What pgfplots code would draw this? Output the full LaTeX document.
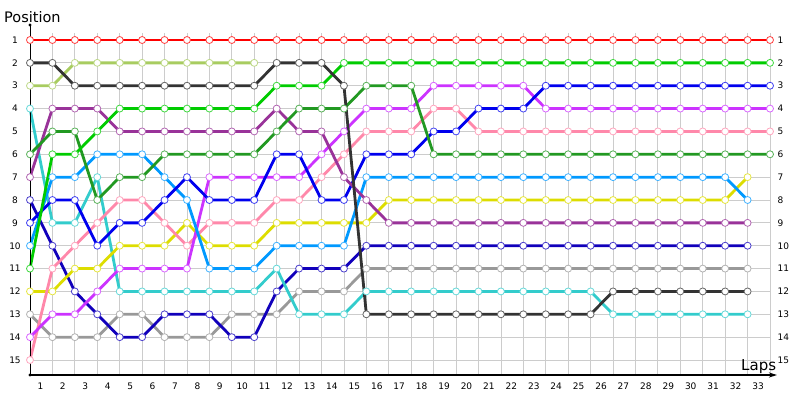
\documentclass[border=0pt]{standalone}
\usepackage{fontspec}
\setmainfont{DejaVu Sans}
\usepackage{pgfplots}
\usepackage{pgfplotstable}
\pgfplotsset{compat=1.18}
\usetikzlibrary{arrows.meta}

\definecolor{cred}{HTML}{FF0000}
\definecolor{cgreen}{HTML}{00CC00}
\definecolor{clgr}{HTML}{A8CC60}
\definecolor{cblk}{HTML}{333333}
\definecolor{cpur}{HTML}{993399}
\definecolor{cdgr}{HTML}{229922}
\definecolor{cvio}{HTML}{CC33FF}
\definecolor{cpnk}{HTML}{FF88AA}
\definecolor{cyel}{HTML}{DDDD00}
\definecolor{clbl}{HTML}{0099FF}
\definecolor{cblu}{HTML}{0000EE}
\definecolor{cnav}{HTML}{1100BB}
\definecolor{cgry}{HTML}{999999}
\definecolor{ccyn}{HTML}{33CCCC}

% position of each driver after each lap (nan = not running)
\pgfplotstableread{
lap red green lgr blk pur dgr vio pnk yel lbl blu nav gry cyn
0  1 11 3   2   7   6 14 15 12  10  9 8   13  4
1  1 6  3   2   4   5 13 11 12  7   8 10  14  9
2  1 6  2   3   4   5 13 10 11  7   8 12  14  9
3  1 5  2   3   4   8 12 9  11  6   10 13 14  7
4  1 4  2   3   5   7 11 8  10  6   9 14  13  12
5  1 4  2   3   5   7 11 8  10  6   9 14  13  12
6  1 4  2   3   5   6 11 9  10  7   8 13  14  12
7  1 4  2   3   5   6 11 10 9   8   7 13  14  12
8  1 4  2   3   5   6 7  9  10  11  8 13  14  12
9  1 4  2   3   5   6 7  9  10  11  8 14  13  12
10 1 4  2   3   5   6 7  9  10  11  8 14  13  12
11 1 3  nan 2   4   5 7  8  9   10  6 12  13  11
12 1 3  nan 2   5   4 7  8  9   10  6 11  12  13
13 1 3  nan 2   5   4 6  7  9   10  8 11  12  13
14 1 2  nan 3   7   4 5  6  9   10  8 11  12  13
15 1 2  nan 13  8   3 4  5  9   7   6 10  11  12
16 1 2  nan 13  9   3 4  5  8   7   6 10  11  12
17 1 2  nan 13  9   3 4  5  8   7   6 10  11  12
18 1 2  nan 13  9   6 3  4  8   7   5 10  11  12
19 1 2  nan 13  9   6 3  4  8   7   5 10  11  12
20 1 2  nan 13  9   6 3  5  8   7   4 10  11  12
21 1 2  nan 13  9   6 3  5  8   7   4 10  11  12
22 1 2  nan 13  9   6 3  5  8   7   4 10  11  12
23 1 2  nan 13  9   6 4  5  8   7   3 10  11  12
24 1 2  nan 13  9   6 4  5  8   7   3 10  11  12
25 1 2  nan 13  9   6 4  5  8   7   3 10  11  12
26 1 2  nan 12  9   6 4  5  8   7   3 10  11  13
27 1 2  nan 12  9   6 4  5  8   7   3 10  11  13
28 1 2  nan 12  9   6 4  5  8   7   3 10  11  13
29 1 2  nan 12  9   6 4  5  8   7   3 10  11  13
30 1 2  nan 12  9   6 4  5  8   7   3 10  11  13
31 1 2  nan 12  9   6 4  5  8   7   3 10  11  13
32 1 2  nan 12  9   6 4  5  7   8   3 10  11  13
33 1 2  nan nan nan 6 4  5  nan nan 3 nan nan nan
}\laps

\pgfplotsset{lap/.style={draw=#1, line width=2.8pt, mark=*, mark size=3.5pt,
  mark options={fill=white, draw=#1!75!white, line width=0.8pt}}}

\begin{document}
\begin{tikzpicture}
\useasboundingbox (0pt,0pt) rectangle (800pt,-400pt);
\begin{axis}[at={(30pt,-375pt)}, anchor=south west, scale only axis,
  width=740pt, height=342pt,
  xmin=0, xmax=33, ymin=0.694, ymax=15.656, y dir=reverse,
  xtick={0,...,33}, ytick={1,...,15},
  xticklabels={{},1,2,3,4,5,6,7,8,9,10,11,12,13,14,15,16,17,18,19,20,21,22,23,24,25,26,27,28,29,30,31,32,33},
  grid=major, major grid style={draw=black!20, line width=0.8pt},
  axis line style={draw=none}, tick style={draw=none}, clip=false,
  tick label style={font=\fontsize{9}{10}\selectfont, /pgf/number format/assume math mode=true},
  xticklabel style={xshift=-12pt, yshift=-4pt},
  yticklabel style={anchor=center, xshift=-15pt}]
\addplot[lap=cgry] table[x=lap,y=gry] {\laps};
\addplot[lap=cnav] table[x=lap,y=nav] {\laps};
\addplot[lap=ccyn] table[x=lap,y=cyn] {\laps};
\addplot[lap=cyel] table[x=lap,y=yel] {\laps};
\addplot[lap=cpnk] table[x=lap,y=pnk] {\laps};
\addplot[lap=cvio] table[x=lap,y=vio] {\laps};
\addplot[lap=clbl] table[x=lap,y=lbl] {\laps};
\addplot[lap=cblu] table[x=lap,y=blu] {\laps};
\addplot[lap=cpur] table[x=lap,y=pur] {\laps};
\addplot[lap=cdgr] table[x=lap,y=dgr] {\laps};
\addplot[lap=clgr] table[x=lap,y=lgr] {\laps};
\addplot[lap=cgreen] table[x=lap,y=green] {\laps};
\addplot[lap=cblk] table[x=lap,y=blk] {\laps};
\addplot[lap=cred] table[x=lap,y=red] {\laps};
\pgfplotsinvokeforeach{1,...,15}{
  \node[anchor=west, font=\fontsize{9}{10}\selectfont, xshift=4pt] at (axis cs:33,#1) {#1};
}
\draw[line width=1pt] (axis cs:0,15.656) -- (axis cs:0,0.344);
\fill (axis cs:0,0.344) circle[radius=1.6pt];
\fill (axis cs:0,15.656) circle[radius=1.6pt];
\draw[line width=1.2pt, -{Stealth[length=8pt,width=5pt]}] (axis cs:0,15.656) -- (axis cs:33.31,15.656);
\end{axis}
\node[anchor=base west, inner sep=0pt, font=\fontsize{14.5}{16}\selectfont] at (4pt,-22pt) {Position};
\node[anchor=base west, inner sep=0pt, font=\fontsize{15}{16}\selectfont] at (741pt,-370pt) {Laps};
\end{tikzpicture}
\end{document}
